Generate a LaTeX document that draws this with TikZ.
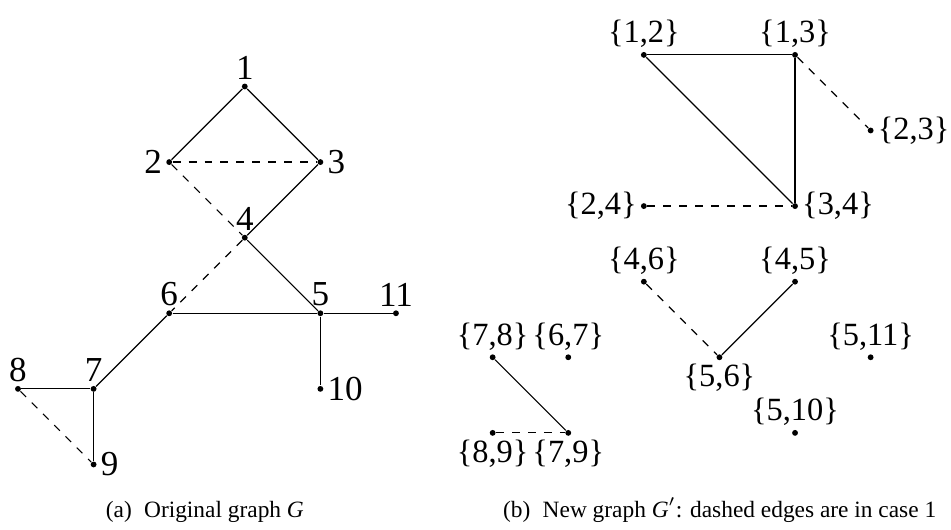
\documentclass[tikz,border=0pt]{standalone}
\usepackage{fontspec}
\setmainfont{Liberation Serif}
\usetikzlibrary{positioning}

\tikzset{
  vert/.style={circle,fill=black,inner sep=0pt,minimum size=2.2pt},
  edge/.style={line width=0.45pt},
  caseone/.style={edge,dashed},
  numlab/.style={font=\fontsize{13.2}{15}\selectfont,inner sep=1.2pt},
  setlab/.style={font=\fontsize{12.2}{14}\selectfont,inner sep=1.2pt},
  capt/.style={font=\fontsize{8.8}{10}\selectfont,anchor=base}
}

\begin{document}
\begin{tikzpicture}[x=1cm,y=1cm]
	\useasboundingbox (0,0) rectangle (12.58,7.0);
	% (a) original graph G
	\begin{scope}[shift={(0.238,0.856)}]
		\foreach \n/\x/\y/\where in {1/3/5/above,2/2/4/left,3/4/4/right,4/3/3/above,
			5/4/2/above,6/2/2/above,11/5/2/above,7/1/1/above,8/0/1/above,10/4/1/right,9/1/0/right}
			\node[vert,label={[numlab]\where:\n}] (g\n) at (\x,\y) {};
		% edges
		\foreach \a/\b in {1/2,1/3,3/4,4/5,6/5,5/11,5/10,6/7,7/8,7/9}
			\draw[edge] (g\a) -- (g\b);
		\foreach \a/\b in {2/3,2/4,4/6,8/9}
			\draw[caseone] (g\a) -- (g\b);
	\end{scope}
	% (b) new graph G'
	\begin{scope}[shift={(6.517,1.274)}]
		\foreach \a/\b/\x/\y/\where in {1/2/2/5/above,1/3/4/5/above,2/3/5/4/right,2/4/2/3/left,
			3/4/4/3/right,4/6/2/2/above,4/5/4/2/above,5/6/3/1/below,5/11/5/1/above,
			7/8/0/1/above,6/7/1/1/above,8/9/0/0/below,7/9/1/0/below,5/10/4/0/above}
			\node[vert,label={[setlab]\where:\{\a,\b\}}] (e\a\b) at (\x,\y) {};
		% edges
		\foreach \a/\b in {12/13,12/34,13/34,45/56,78/79}
			\draw[edge] (e\a) -- (e\b);
		\foreach \a/\b in {13/23,24/34,46/56,89/79}
			\draw[caseone] (e\a) -- (e\b);
	\end{scope}
	% captions
	\node[capt] (capa) at (2.71,0.16) {(a)\; Original graph \textit{G}};
	\node[capt] (capb) at (9.52,0.16) {(b)\; New graph \textit{G}$'$: dashed edges are in case 1};
\end{tikzpicture}
\end{document}
